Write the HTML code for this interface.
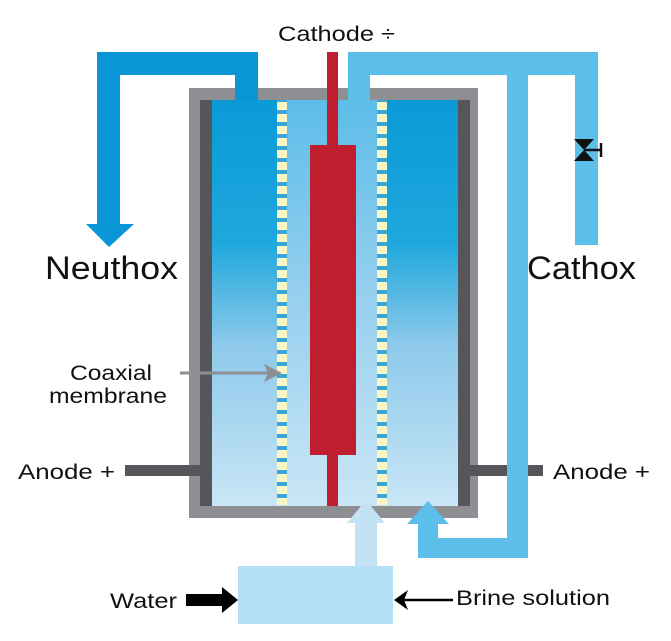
<!DOCTYPE html>
<html><head><style>
body{margin:0;background:#fff;}
svg text{font-family:"Liberation Sans Narrow","Liberation Sans",sans-serif;fill:#111;}
</style></head><body>
<svg width="671" height="636" viewBox="0 0 671 636" xmlns="http://www.w3.org/2000/svg">
<defs>
<linearGradient id="side" x1="0" y1="0" x2="0" y2="1">
<stop offset="0" stop-color="#0a9ad6"/><stop offset="0.35" stop-color="#1ea8dd"/><stop offset="0.6" stop-color="#8cc9ea"/><stop offset="1" stop-color="#c9e6f6"/>
</linearGradient>
<linearGradient id="mid" x1="0" y1="0" x2="0" y2="1">
<stop offset="0" stop-color="#5cbde9"/><stop offset="0.5" stop-color="#98d0ee"/><stop offset="1" stop-color="#c9e6f6"/>
</linearGradient>
<pattern id="mem" x="0" y="100" width="10" height="12" patternUnits="userSpaceOnUse">
<rect width="10" height="12" fill="#3aa6d4"/><rect y="2" width="10" height="8" fill="#fbf6c6"/>
</pattern>
</defs>
<rect x="189" y="88" width="289" height="430" fill="#8e8f93"/>
<rect x="200" y="100" width="270" height="406" fill="#555659"/>
<rect x="212" y="100" width="246" height="406" fill="url(#side)"/>
<rect x="287" y="100" width="90" height="406" fill="url(#mid)"/>
<rect x="277" y="100" width="10" height="405" fill="url(#mem)"/>
<rect x="377" y="100" width="10" height="405" fill="url(#mem)"/>
<rect x="327" y="52" width="11" height="454" fill="#be1e2d"/>
<rect x="310" y="145" width="46" height="310" fill="#be1e2d"/>
<path d="M97 52 H258 V100 H235 V75 H120 V224 H134 L109 247 L86 224 H97 Z" fill="#0a95d6"/>
<path d="M348 100 V52 H598 V245 H575 V75 H528 V558 H418 V524 H407 L428 501 L449 524 H438 V538 H507 V75 H370 V100 Z" fill="#5bbfea"/>
<!-- valve (vertical bowtie) -->
<path d="M574 139 H594 L574 161 H594 Z" fill="#111"/>
<path d="M584 150 H601 M601 143 V157" stroke="#111" stroke-width="2.5"/>
<path d="M366 500 L385 523 H377 V566 H355 V523 H347 Z" fill="#c3e3f5"/>
<rect x="238" y="566" width="155" height="58" fill="#b4e0f5"/>
<rect x="125" y="465" width="76" height="11" fill="#555659"/>
<rect x="470" y="465" width="73" height="11" fill="#555659"/>
<rect x="507" y="465" width="21" height="11" fill="#5bbfea"/>
<path d="M180 373 H268" stroke="#8e8f93" stroke-width="3"/>
<path d="M282 373 L264 364 L268 373 L264 382 Z" fill="#8e8f93"/>
<path d="M186 594 H222 V587 L238 600 L222 613 V606 H186 Z" fill="#000"/>
<path d="M453 600 H402" stroke="#000" stroke-width="2.5"/>
<path d="M394 600 L408 590 L404 600 L408 610 Z" fill="#000"/>
<text x="278" y="41" font-size="21" textLength="117" lengthAdjust="spacingAndGlyphs">Cathode ÷</text>
<text x="45" y="279" font-size="32" textLength="133" lengthAdjust="spacingAndGlyphs">Neuthox</text>
<text x="527" y="279" font-size="32" textLength="109" lengthAdjust="spacingAndGlyphs">Cathox</text>
<text x="70" y="380" font-size="21" textLength="82" lengthAdjust="spacingAndGlyphs">Coaxial</text>
<text x="49" y="403" font-size="21" textLength="118" lengthAdjust="spacingAndGlyphs">membrane</text>
<text x="18" y="479" font-size="21" textLength="97" lengthAdjust="spacingAndGlyphs">Anode +</text>
<text x="553" y="479" font-size="21" textLength="97" lengthAdjust="spacingAndGlyphs">Anode +</text>
<text x="110" y="608" font-size="21" textLength="67" lengthAdjust="spacingAndGlyphs">Water</text>
<text x="456" y="605" font-size="21" textLength="154" lengthAdjust="spacingAndGlyphs">Brine solution</text>
</svg>
</body></html>
